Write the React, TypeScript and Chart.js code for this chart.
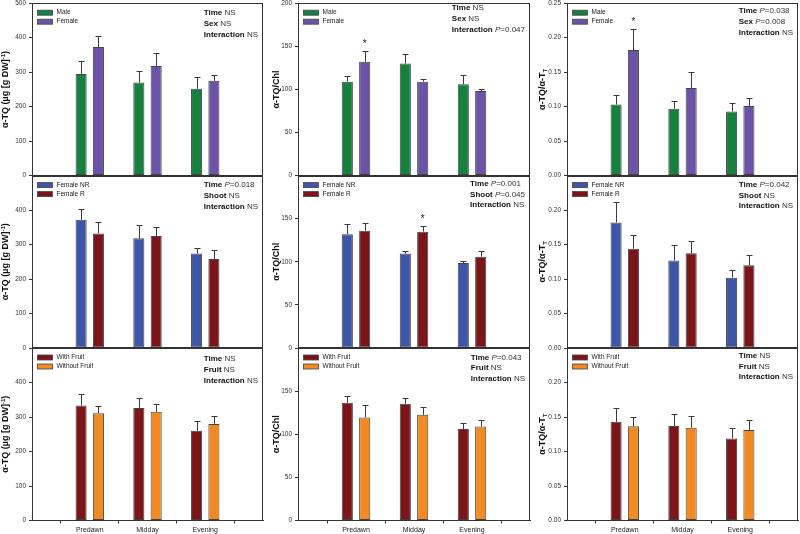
import React, { useEffect, useRef } from "react";
import { Chart, registerables } from "chart.js";
Chart.register(...registerables);

const FONT = '"Liberation Sans", Arial, Helvetica, sans-serif';

// ---------- categories ----------
const timeLabels = ["", "Predawn", "Midday", "Evening", ""];

// ---------- series names ----------
const sexNames = ["Male", "Female"];
const shootNames = ["Female NR", "Female R"];
const fruitNames = ["With Fruit", "Without Fruit"];

// ---------- row 1: sex ----------
const maleTQ = [295, 270, 252];
const maleTQErr = [37, 32, 33];
const femaleTQ = [373, 318, 275];
const femaleTQErr = [31, 38, 16];
const maleChl = [109, 130, 106];
const maleChlErr = [6, 11.5, 11];
const femaleChl = [132, 109, 98];
const femaleChlErr = [12, 3, 3];
const maleRatio = [0.103, 0.097, 0.093];
const maleRatioErr = [0.0135, 0.0115, 0.012];
const femaleRatio = [0.182, 0.127, 0.101];
const femaleRatioErr = [0.03, 0.023, 0.011];

// ---------- row 2: shoot ----------
const nrTQ = [372, 318, 274];
const nrTQErr = [31, 38.5, 16];
const rTQ = [332, 325, 258];
const rTQErr = [33, 27, 26];
const nrChl = [132, 109.5, 98.5];
const nrChlErr = [11.5, 2.7, 3];
const rChl = [136, 135, 106];
const rChlErr = [8.7, 7, 7];
const nrRatio = [0.182, 0.127, 0.102];
const nrRatioErr = [0.03, 0.023, 0.0106];
const rRatio = [0.144, 0.1375, 0.12];
const rRatioErr = [0.02, 0.018, 0.015];

// ---------- row 3: fruit ----------
const wfTQ = [333, 326, 260];
const wfTQErr = [34, 29, 27];
const wofTQ = [311, 315, 280];
const wofTQErr = [21, 22, 22];
const wfChl = [136.5, 135.3, 106];
const wfChlErr = [8, 7, 7];
const wofChl = [119.4, 122.5, 109];
const wofChlErr = [14.7, 9.3, 8];
const wfRatio = [0.143, 0.137, 0.119];
const wfRatioErr = [0.02, 0.018, 0.0155];
const wofRatio = [0.1365, 0.1346, 0.131];
const wofRatioErr = [0.013, 0.0165, 0.014];

// ---------- statistics text ----------
const sexStatsTQ = ["Time|NS", "Sex|NS", "Interaction|NS"];
const sexStatsChl = ["Time|NS", "Sex|NS", "Interaction|P=0.047"];
const sexStatsRatio = ["Time|P=0.038", "Sex|P=0.008", "Interaction|NS"];
const shootStatsTQ = ["Time|P=0.018", "Shoot|NS", "Interaction|NS"];
const shootStatsChl = ["Time|P=0.001", "Shoot|P=0.045", "Interaction|NS"];
const shootStatsRatio = ["Time|P=0.042", "Shoot|NS", "Interaction|NS"];
const fruitStatsTQ = ["Time|NS", "Fruit|NS", "Interaction|NS"];
const fruitStatsChl = ["Time|P=0.043", "Fruit|NS", "Interaction|NS"];
const fruitStatsRatio = ["Time|NS", "Fruit|NS", "Interaction|NS"];

// ---------- y axes ----------
const yMaxes = [500, 200, 0.25];
const ySteps = [100, 50, 0.05];
const yDecimals = [0, 0, 2];

type Piece = { t: string; sup?: boolean; sub?: boolean };
const yTitles: Piece[][] = [
  [{ t: "\u03B1-TQ (\u00B5g [g DW]" }, { t: "-1", sup: true }, { t: ")" }],
  [{ t: "\u03B1-TQ/Chl" }],
  [{ t: "\u03B1-TQ/\u03B1-T" }, { t: "T", sub: true }],
];

// ---------- colours ----------
const sexColors = ["#16803f", "#6c53a7"];
const shootColors = ["#3e56a8", "#7b1519"];
const fruitColors = ["#7b1519", "#f28a24"];

// ---------- layout (positions only) ----------
const colGeom = [
  { plotLeft: 32, plotRight: 263, titleOff: 26 },
  { plotLeft: 298, plotRight: 530, titleOff: 21.5 },
  { plotLeft: 567, plotRight: 798, titleOff: 24 },
];
const rowGeom = [
  { top: 3.2, bottom: 175.6 },
  { top: 175.6, bottom: 348 },
  { top: 348, bottom: 520.5 },
];
const statFirst = [
  [10, 5, 8],
  [9.5, 8, 9],
  [11, 9.3, 7.7],
];

type PanelDef = {
  row: number;
  col: number;
  names: string[];
  colors: string[];
  series: number[][];
  errors: number[][];
  stats: string[];
  stars: [number, number][];
};

const panels: PanelDef[] = [
  { row: 0, col: 0, names: sexNames, colors: sexColors, series: [maleTQ, femaleTQ], errors: [maleTQErr, femaleTQErr], stats: sexStatsTQ, stars: [] },
  { row: 0, col: 1, names: sexNames, colors: sexColors, series: [maleChl, femaleChl], errors: [maleChlErr, femaleChlErr], stats: sexStatsChl, stars: [[1, 0]] },
  { row: 0, col: 2, names: sexNames, colors: sexColors, series: [maleRatio, femaleRatio], errors: [maleRatioErr, femaleRatioErr], stats: sexStatsRatio, stars: [[1, 0]] },
  { row: 1, col: 0, names: shootNames, colors: shootColors, series: [nrTQ, rTQ], errors: [nrTQErr, rTQErr], stats: shootStatsTQ, stars: [] },
  { row: 1, col: 1, names: shootNames, colors: shootColors, series: [nrChl, rChl], errors: [nrChlErr, rChlErr], stats: shootStatsChl, stars: [[1, 1]] },
  { row: 1, col: 2, names: shootNames, colors: shootColors, series: [nrRatio, rRatio], errors: [nrRatioErr, rRatioErr], stats: shootStatsRatio, stars: [] },
  { row: 2, col: 0, names: fruitNames, colors: fruitColors, series: [wfTQ, wofTQ], errors: [wfTQErr, wofTQErr], stats: fruitStatsTQ, stars: [] },
  { row: 2, col: 1, names: fruitNames, colors: fruitColors, series: [wfChl, wofChl], errors: [wfChlErr, wofChlErr], stats: fruitStatsChl, stars: [] },
  { row: 2, col: 2, names: fruitNames, colors: fruitColors, series: [wfRatio, wofRatio], errors: [wfRatioErr, wofRatioErr], stats: fruitStatsRatio, stars: [] },
];

type Seg = { t: string; bold?: boolean; italic?: boolean };
function statSegs(line: string): Seg[] {
  const [name, val] = line.split("|");
  const segs: Seg[] = [{ t: name + " ", bold: true }];
  if (val.startsWith("P=")) {
    segs.push({ t: "P", italic: true });
    segs.push({ t: val.slice(1) });
  } else segs.push({ t: val });
  return segs;
}
function segFont(s: Seg) {
  return `${s.italic ? "italic " : ""}${s.bold ? "bold " : ""}8px ${FONT}`;
}

function Panel({ p }: { p: PanelDef }) {
  const ref = useRef<HTMLCanvasElement | null>(null);
  const cg = colGeom[p.col];
  const rg = rowGeom[p.row];
  const isBottom = p.row === 2;
  const canvasLeft = cg.plotLeft - 32;
  const canvasTop = Math.floor(rg.top - 10);
  const padTop = rg.top - canvasTop;
  const plotH = rg.bottom - rg.top;
  const xH = isBottom ? 16 : 0;
  const H = Math.ceil(padTop + plotH + xH + 10);
  const padBottom = H - padTop - plotH - xH;
  const W = cg.plotRight - canvasLeft + 3;

  useEffect(() => {
    if (!ref.current) return;
    const yMax = yMaxes[p.col];
    const dec = yDecimals[p.col];
    const plugin = {
      id: "panelExtras",
      afterDatasetsDraw(chart: any) {
        const ctx = chart.ctx;
        const ys = chart.scales.y;
        ctx.save();
        ctx.strokeStyle = "#3a3a3a";
        ctx.lineWidth = 1;
        p.series.forEach((s, di) => {
          const meta = chart.getDatasetMeta(di);
          s.forEach((v, j) => {
            const el = meta.data[j + 1];
            const x = Math.round(el.x) + 0.5;
            const yTop = ys.getPixelForValue(v);
            const yErr = Math.round(ys.getPixelForValue(v + p.errors[di][j])) + 0.5;
            ctx.beginPath();
            ctx.moveTo(x, yTop);
            ctx.lineTo(x, yErr);
            ctx.moveTo(x - 3, yErr);
            ctx.lineTo(x + 3, yErr);
            ctx.stroke();
          });
        });
        ctx.fillStyle = "#222";
        ctx.font = `10px ${FONT}`;
        ctx.textAlign = "center";
        ctx.textBaseline = "alphabetic";
        p.stars.forEach(([di, j]) => {
          const el = chart.getDatasetMeta(di).data[j + 1];
          const yErr = ys.getPixelForValue(p.series[di][j] + p.errors[di][j]);
          ctx.fillText("*", el.x, yErr - 4);
        });
        ctx.restore();
      },
      afterDraw(chart: any) {
        const ctx = chart.ctx;
        const ca = chart.chartArea;
        ctx.save();
        // frame
        ctx.strokeStyle = "#333";
        ctx.lineWidth = 1;
        const l = Math.round(ca.left) + 0.5;
        const r = Math.round(ca.right) - 0.5;
        const t = Math.round(ca.top) + 0.5;
        const b = Math.round(ca.bottom) - 0.5;
        ctx.strokeRect(l, t, r - l, b - t);
        // legend
        p.names.forEach((n, i) => {
          const cy = ca.top + 9.5 + i * 9;
          ctx.fillStyle = p.colors[i];
          ctx.fillRect(ca.left + 5.5, cy - 2.5, 15, 5);
          ctx.strokeStyle = "#444";
          ctx.lineWidth = 0.8;
          ctx.strokeRect(ca.left + 5.5, cy - 2.5, 15, 5);
          ctx.fillStyle = "#222";
          ctx.font = `6.5px ${FONT}`;
          ctx.textAlign = "left";
          ctx.textBaseline = "middle";
          ctx.fillText(n, ca.left + 24.5, cy);
        });
        // stats
        const lines = p.stats.map(statSegs);
        let maxW = 0;
        lines.forEach((segs) => {
          let w = 0;
          segs.forEach((s) => {
            ctx.font = segFont(s);
            w += ctx.measureText(s.t).width;
          });
          maxW = Math.max(maxW, w);
        });
        const x0 = ca.right - 5 - maxW;
        ctx.textBaseline = "middle";
        ctx.textAlign = "left";
        lines.forEach((segs, i) => {
          let x = x0;
          const cy = ca.top + statFirst[p.row][p.col] + i * 10.7;
          segs.forEach((s) => {
            ctx.font = segFont(s);
            ctx.fillStyle = s.bold ? "#111" : "#333";
            ctx.fillText(s.t, x, cy);
            x += ctx.measureText(s.t).width;
          });
        });
        // y title
        const pieces = yTitles[p.col];
        const big = `bold 9px ${FONT}`;
        const small = `bold 6px ${FONT}`;
        ctx.translate(ca.left - cg.titleOff, (ca.top + ca.bottom) / 2);
        ctx.rotate(-Math.PI / 2);
        let total = 0;
        pieces.forEach((pc) => {
          ctx.font = pc.sup || pc.sub ? small : big;
          total += ctx.measureText(pc.t).width;
        });
        let x = -total / 2;
        ctx.fillStyle = "#111";
        ctx.textBaseline = "middle";
        pieces.forEach((pc) => {
          ctx.font = pc.sup || pc.sub ? small : big;
          const dy = pc.sup ? -3 : pc.sub ? 2.5 : 0;
          ctx.fillText(pc.t, x, dy);
          x += ctx.measureText(pc.t).width;
        });
        ctx.restore();
      },
    };

    const chart = new Chart(ref.current, {
      type: "bar",
      data: {
        labels: timeLabels,
        datasets: p.series.map((s, i) => ({
          label: p.names[i],
          data: [null, ...s, null],
          backgroundColor: p.colors[i],
          borderColor: "#444",
          borderWidth: 1,
          borderSkipped: false,
          categoryPercentage: 0.6,
          barPercentage: 0.64,
        })),
      },
      options: {
        responsive: false,
        animation: false,
        devicePixelRatio: 1,
        layout: { padding: { left: 0, right: 3, top: padTop, bottom: padBottom } },
        plugins: { legend: { display: false }, tooltip: { enabled: false } },
        scales: {
          x: {
            type: "category",
            offset: false,
            display: isBottom,
            grid: { drawOnChartArea: false, drawTicks: true, tickLength: 3, color: "#333" },
            border: { display: true, color: "#333" },
            ticks: { font: { family: FONT, size: 7 }, color: "#222", padding: 2, maxRotation: 0, autoSkip: false },
            afterFit: (s: any) => {
              s.height = isBottom ? 16 : 0;
            },
          },
          y: {
            min: 0,
            max: yMax,
            afterFit: (s: any) => {
              s.width = 32;
            },
            ticks: {
              stepSize: ySteps[p.col],
              autoSkip: false,
              font: { family: FONT, size: 6.5 },
              color: "#333",
              padding: 3,
              callback: (v: any) =>
                p.row > 0 && Math.abs(Number(v) - yMax) < 1e-9 ? "" : Number(v).toFixed(dec),
            },
            grid: { drawOnChartArea: false, drawTicks: true, tickLength: 3, color: "#333" },
            border: { display: true, color: "#333" },
          },
        },
      } as any,
      plugins: [plugin as any],
    });
    return () => chart.destroy();
  }, []);

  return (
    <canvas
      ref={ref}
      width={W}
      height={H}
      style={{ position: "absolute", left: canvasLeft, top: canvasTop, width: W, height: H }}
    />
  );
}

export default function App() {
  return (
    <div
      style={{
        position: "absolute",
        left: 0,
        top: 0,
        width: 800,
        height: 534,
        overflow: "hidden",
        background: "#fff",
      }}
    >
      {panels.map((p, i) => (
        <Panel key={i} p={p} />
      ))}
    </div>
  );
}
